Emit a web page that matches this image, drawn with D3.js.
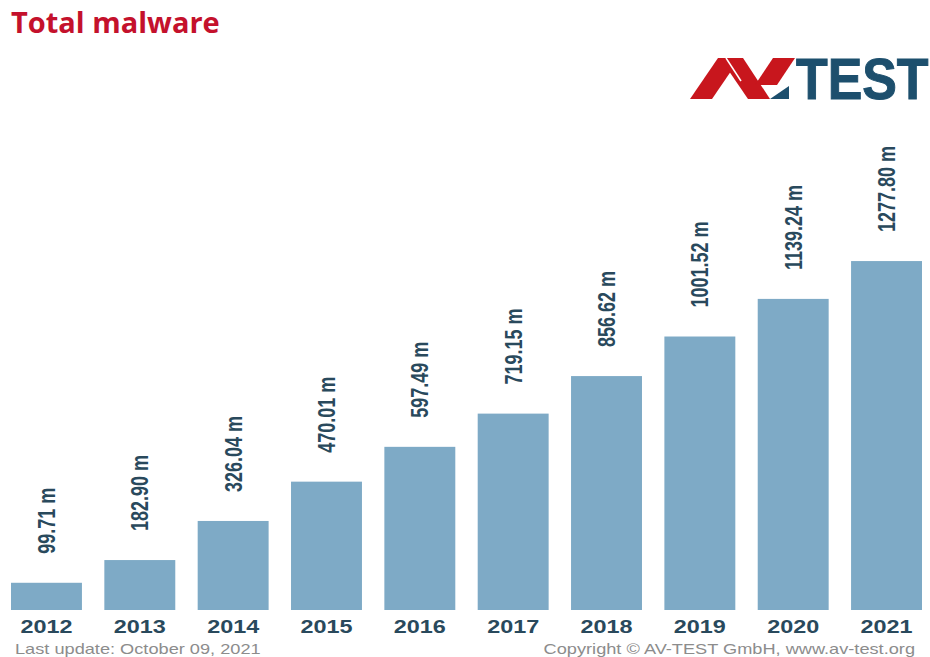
<!DOCTYPE html>
<html>
<head>
<meta charset="utf-8">
<script src="https://cdn.jsdelivr.net/npm/d3@7"></script>
<style>
  body { margin: 0; background: #fff; }
  svg { display: block; }
</style>
</head>
<body>
<svg id="chart"></svg>
<script>
const chartSize = { width: 930, height: 657 };
const years = ["2012", "2013", "2014", "2015", "2016", "2017", "2018", "2019", "2020", "2021"];
const totals = [99.71, 182.9, 326.04, 470.01, 597.49, 719.15, 856.62, 1001.52, 1139.24, 1277.8];
const labels = ["99.71 m", "182.90 m", "326.04 m", "470.01 m", "597.49 m", "719.15 m", "856.62 m", "1001.52 m", "1139.24 m", "1277.80 m"];

const barColor = "#7eaac6";
const textColor = "#29495c";
const stretch = 1.3; // the source image is squeezed wider than tall

const svg = d3.select("#chart")
  .attr("width", chartSize.width)
  .attr("height", chartSize.height);

const x = d3.scaleBand()
  .domain(years)
  .range([11, 922])
  .paddingInner(0.24)
  .paddingOuter(0);

const y = d3.scaleLinear()
  .domain([0, 1300])
  .range([610, 255]);

const data = years.map((yr, i) => ({ year: yr, value: totals[i], label: labels[i] }));

// title
svg.append("text")
  .attr("x", 11)
  .attr("y", 33)
  .attr("font-family", "'Open Sans', sans-serif")
  .attr("font-weight", 700)
  .attr("font-size", 29)
  .attr("fill", "#c4112c")
  .text("Total malware");

// logo
const logo = svg.append("g").attr("class", "logo");
const red = "#c8161d";
const polys = [
  { pts: [[690, 99], [712, 99], [740, 58], [718, 58]], fill: red },
  { pts: [[720, 58], [743, 58], [770, 99], [748, 99]], fill: red },
  { pts: [[755, 85], [777, 85], [795, 58], [773, 58]], fill: red },
  { pts: [[770, 99], [789, 99], [789, 86]], fill: "#1d4f6d" }
];
logo.selectAll("polygon")
  .data(polys)
  .enter()
  .append("polygon")
  .attr("points", d => d.pts.map(p => p.join(",")).join(" "))
  .attr("fill", d => d.fill);
logo.append("line")
  .attr("x1", 726).attr("y1", 58)
  .attr("x2", 741).attr("y2", 81)
  .attr("stroke", "#fff")
  .attr("stroke-width", 1.5);
logo.append("g")
  .attr("transform", "translate(796,99) scale(0.91,1)")
  .append("text")
  .attr("font-family", "'Liberation Sans', Arial, sans-serif")
  .attr("font-weight", 700)
  .attr("font-size", 57)
  .attr("fill", "#1d4f6d")
  .attr("stroke", "#1d4f6d")
  .attr("stroke-width", 1)
  .text("TEST");

// bars
svg.append("g")
  .selectAll("rect")
  .data(data)
  .enter()
  .append("rect")
  .attr("x", d => x(d.year))
  .attr("y", d => y(d.value))
  .attr("width", x.bandwidth())
  .attr("height", d => y(0) - y(d.value))
  .attr("fill", barColor);

// value labels
svg.append("g")
  .selectAll("g")
  .data(data)
  .enter()
  .append("g")
  .attr("transform", d => `translate(${x(d.year) + x.bandwidth() / 2},${y(d.value) - 29}) scale(${stretch},1) rotate(-90)`)
  .append("text")
  .attr("dy", "0.36em")
  .attr("font-family", "'Liberation Sans', Arial, sans-serif")
  .attr("font-weight", 700)
  .attr("font-size", 18)
  .attr("fill", textColor)
  .text(d => d.label);

// year axis
const xAxis = svg.append("g")
  .attr("transform", "translate(0,610)")
  .call(d3.axisBottom(x).tickSize(0).tickPadding(0));
xAxis.select(".domain").remove();
xAxis.selectAll(".tick text")
  .attr("y", 0)
  .attr("dy", 0)
  .attr("transform", `translate(0,23) scale(${stretch},1)`)
  .attr("font-family", "'Liberation Sans', Arial, sans-serif")
  .attr("font-weight", 700)
  .attr("font-size", 18)
  .attr("fill", textColor);

// footer
const footer = [
  { text: "Last update: October 09, 2021", x: 15, anchor: "start" },
  { text: "Copyright © AV-TEST GmbH, www.av-test.org", x: 915, anchor: "end" }
];
svg.append("g")
  .selectAll("g")
  .data(footer)
  .enter()
  .append("g")
  .attr("transform", d => `translate(${d.x},654) scale(${stretch},1)`)
  .append("text")
  .attr("text-anchor", d => d.anchor)
  .attr("font-family", "'Liberation Sans', Arial, sans-serif")
  .attr("font-size", 14)
  .attr("fill", "#8c8c8c")
  .text(d => d.text);
</script>
</body>
</html>
